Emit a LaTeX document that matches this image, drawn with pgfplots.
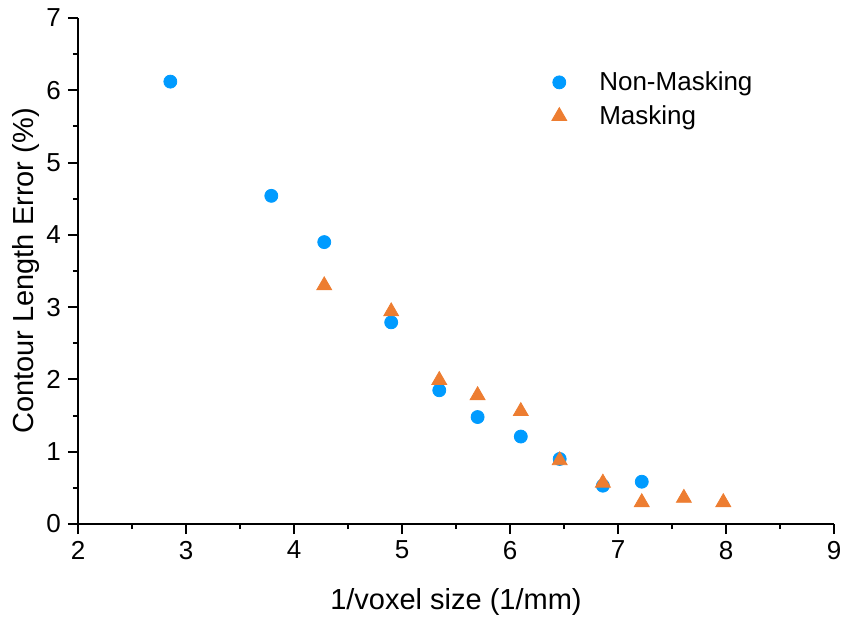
\documentclass[border=0pt]{standalone}
\usepackage{fontspec}
\setmainfont{Liberation Sans}
\usepackage{pgfplots}
\pgfplotsset{compat=1.18}
\definecolor{nmblue}{RGB}{0,155,255}
\definecolor{morange}{RGB}{237,125,49}

\begin{document}
\begin{tikzpicture}
\useasboundingbox (-39pt,-47pt) rectangle (383pt,262pt);
\begin{axis}[
    scale only axis,
    width=378pt,
    height=253pt,
    xmin=2, xmax=9,
    ymin=0, ymax=7,
    xtick={2,...,9},
    ytick={0,...,7},
    minor tick num=1,
    axis lines*=left,
    axis line style={line width=1pt},
    tick style={line width=1pt, black},
    tick align=outside,
    major tick length=5pt,
    minor tick length=2.5pt,
    /pgf/number format/assume math mode=true,
    tick label style={font=\fontsize{13}{15}\selectfont},
    xlabel={1/voxel size (1/mm)},
    ylabel={Contour Length Error (\%)},
    label style={font=\fontsize{14.5}{17}\selectfont},
    xlabel style={at={(axis description cs:0.5,-0.168)}, anchor=base},
    ylabel style={at={(axis description cs:-0.0595,0.5)}, anchor=base, rotate=0},
    legend style={draw=none, fill=none, at={(axis description cs:0.6176,0.911)},
        anchor=north west, font=\fontsize{13}{15}\selectfont, row sep=2pt},
    legend cell align=left,
    legend image code/.code={
        \draw[#1] plot coordinates {(0pt,0pt)};
        \path[draw=none, fill=none] (-4pt,0pt) (18pt,0pt);
    },
]
\addplot[only marks, mark=*, mark size=3.25pt, color=nmblue] coordinates {
    (2.855,6.12) (3.79,4.54) (4.28,3.90) (4.90,2.79) (5.345,1.85)
    (5.70,1.48) (6.10,1.21) (6.46,0.90) (6.86,0.53) (7.22,0.585)
};
\addlegendentry{Non-Masking}
\addplot[only marks, mark=triangle*, mark size=4.3pt, color=morange] coordinates {
    (4.28,3.30) (4.90,2.94) (5.345,1.99) (5.70,1.78) (6.10,1.56)
    (6.46,0.88) (6.86,0.57) (7.22,0.30) (7.61,0.36) (7.975,0.30)
};
\addlegendentry{Masking}
\end{axis}
\end{tikzpicture}
\end{document}
